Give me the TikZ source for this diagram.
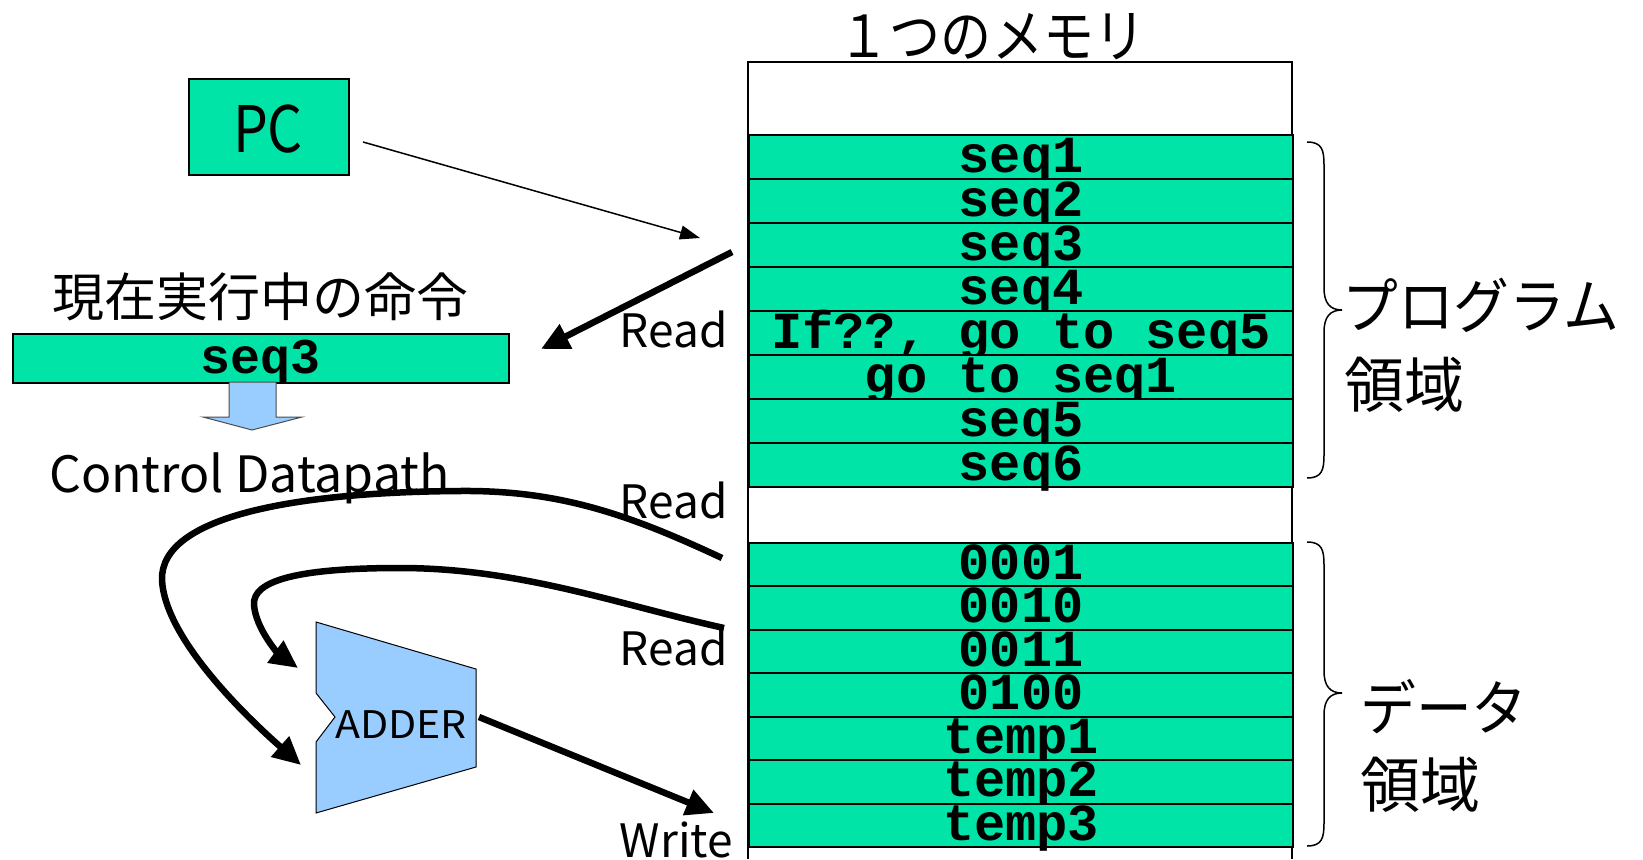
\documentclass[tikz,border=0pt]{standalone}
\usepackage{fontspec}
\setmainfont{Noto Sans CJK JP}
\newfontfamily\jpfont{Noto Sans CJK JP}
\newfontfamily\jpnarrow{Noto Sans CJK JP}[FakeStretch=0.88]
\newfontfamily\jpkata{Noto Sans CJK JP}[FakeStretch=0.93]
\newfontfamily\pcfont{Noto Sans CJK JP}[FakeStretch=0.86]
\newfontfamily\adderfont{Noto Sans CJK JP}[FakeStretch=1.08]
\newfontfamily\monofont{Liberation Mono}
\usetikzlibrary{arrows.meta}
\definecolor{mgreen}{RGB}{0,228,168}
\definecolor{mblue}{RGB}{153,204,255}
\begin{document}
\begin{tikzpicture}[x=1pt,y=-1pt,
  cell/.style={draw=black, line width=2pt, fill=mgreen, minimum width=544pt,
    minimum height=44pt, inner sep=0pt, text height=37pt, text depth=7pt,
    font=\monofont\bfseries\fontsize{52}{52}\selectfont, anchor=north west},
  dcell/.style={cell, minimum height=43.5pt, text height=36.5pt},
  lbl/.style={inner sep=0pt, font=\jpfont\fontsize{46}{46}\selectfont},
  jlbl/.style={inner sep=0pt, font=\jpfont\fontsize{60}{60}\selectfont},
  thinarrow/.style={line width=1.5pt, -{Triangle[length=20pt,width=14pt]}},
  bigarrow/.style={line width=6.5pt, -{Triangle[length=28pt,width=26pt]}},
  brace/.style={line width=1.5pt}
]
\useasboundingbox (0,0) rectangle (1643,859);
\fill[white] (0,0) rectangle (1643,859);

% memory outline
\draw[line width=1.2pt] (748,859) -- (748,62) -- (1292,62) -- (1292,859);
\node[inner sep=0pt, font=\jpnarrow\fontsize{58}{58}\selectfont, anchor=base] (title) at (992,57) {１つのメモリ};

% program area
\node[cell] (p1) at (748,134.3) {seq1};
\node[cell] (p2) at (748,178.3) {seq2};
\node[cell] (p3) at (748,222.3) {seq3};
\node[cell] (p4) at (748,266.3) {seq4};
\node[cell] (p5) at (748,310.3) {If??, go to seq5};
\node[cell] (p6) at (748,354.3) {go to seq1};
\node[cell] (p7) at (748,398.3) {seq5};
\node[cell] (p8) at (748,442.3) {seq6};

% data area
\node[dcell] (d1) at (748,541.7) {0001};
\node[dcell] (d2) at (748,585.2) {0010};
\node[dcell] (d3) at (748,628.7) {0011};
\node[dcell] (d4) at (748,672.2) {0100};
\node[dcell] (d5) at (748,715.7) {temp1};
\node[dcell] (d6) at (748,759.2) {temp2};
\node[dcell] (d7) at (748,802.7) {temp3};

% braces
\draw[brace] (1307,142) .. controls (1322,142) and (1324,150) .. (1324,165)
  -- (1324,288) .. controls (1324,303) and (1330,310) .. (1342,310)
  .. controls (1330,310) and (1324,317) .. (1324,332)
  -- (1324,455) .. controls (1324,470) and (1322,478) .. (1307,478);
\draw[brace] (1307,542) .. controls (1322,542) and (1324,550) .. (1324,565)
  -- (1324,671) .. controls (1324,686) and (1330,693) .. (1342,693)
  .. controls (1330,693) and (1324,700) .. (1324,715)
  -- (1324,823) .. controls (1324,838) and (1322,846) .. (1307,846);
\node[jlbl, font=\jpkata\fontsize{60}{60}\selectfont, anchor=base west] (prog) at (1342,328) {プログラム};
\node[jlbl, anchor=base west] (progr) at (1344,407) {領域};
\node[jlbl, font=\jpkata\fontsize{60}{60}\selectfont, anchor=base west] (data) at (1360,730) {データ};
\node[jlbl, anchor=base west] (datar) at (1360,807) {領域};

% PC
\node[draw=black, line width=2pt, fill=mgreen, minimum width=160pt, minimum height=96pt,
  inner sep=0pt, anchor=north west] (pc) at (188,78) {};
\node[inner sep=0pt, font=\pcfont\fontsize{64}{64}\selectfont, anchor=base] (pct) at (268,152) {PC};
\coordinate (pcs) at (363,142);
\coordinate (pce) at (700,238);
\draw[thinarrow] (pcs) -- (pce);

% current instruction
\node[inner sep=0pt, font=\jpfont\fontsize{52}{52}\selectfont, anchor=base] (cur) at (260,316) {現在実行中の命令};
\node[draw=black, line width=2pt, fill=mgreen, minimum width=496pt, minimum height=49pt,
  inner sep=0pt, anchor=north west, text height=39pt, text depth=10pt,
  font=\monofont\bfseries\fontsize{50}{50}\selectfont] (ir) at (11.5,333) {seq3};
\coordinate (r1s) at (732,252);
\coordinate (r1e) at (541,349);
\draw[bigarrow] (r1s) -- (r1e);
\node[lbl, anchor=base east] (read1) at (728,347) {Read};

% blue arrow
\draw[fill=mblue, draw=black!70, line width=1pt] (229,382) -- (276,382) -- (276,417)
  -- (302,417) -- (252,430) -- (203,417) -- (229,417) -- cycle;
\node[lbl, font=\jpfont\fontsize{50}{50}\selectfont, anchor=base west] (cdp) at (49,492) {Control Datapath};

% adder
\draw[fill=mblue, draw=black, line width=1pt] (316,622) -- (476,669) -- (476,767)
  -- (316,813) -- (316,742) -- (335,717) -- (316,693) -- cycle;
\node[inner sep=0pt, font=\adderfont\fontsize{38}{38}\selectfont, anchor=base west] (adder) at (335,738) {ADDER};

% read labels
\node[lbl, anchor=base east] (read2) at (728,518) {Read};
\node[lbl, anchor=base east] (read3) at (728,665) {Read};
\node[lbl, anchor=base east] (write) at (733,857) {Write};

% curves
\coordinate (c1s) at (722,558);
\coordinate (c1e) at (301,765);
\draw[bigarrow] (c1s) .. controls (630,515) and (560,490) .. (460,491)
  .. controls (300,492) and (160,515) .. (162,580)
  .. controls (165,640) and (250,720) .. (c1e);
\coordinate (c2s) at (724,628);
\coordinate (c2e) at (298,668);
\draw[bigarrow] (c2s) .. controls (620,605) and (520,568) .. (400,568)
  .. controls (300,568) and (252,580) .. (254,605)
  .. controls (256,630) and (280,655) .. (c2e);
\coordinate (ws) at (479,717);
\coordinate (we) at (714,813);
\draw[bigarrow] (ws) -- (we);
\end{tikzpicture}
\end{document}
